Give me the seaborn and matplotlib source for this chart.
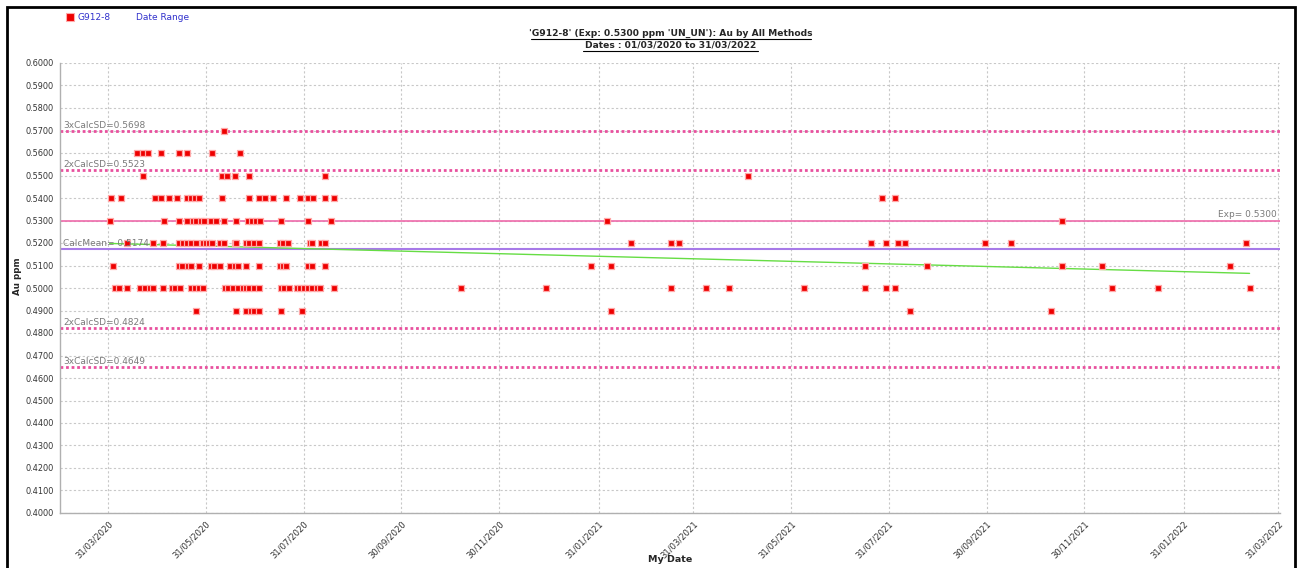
import numpy as np
import pandas as pd
import matplotlib
matplotlib.use("Agg")
import matplotlib.pyplot as plt
import matplotlib.dates as mdates
from matplotlib.patches import Rectangle
import seaborn as sns

# ---------------- data (days after 01/03/2020 for each Au level) ----------------
start_date = "2020-03-01"
end_date = "2022-03-31"
levels = [0.57, 0.56, 0.55, 0.54, 0.53, 0.52, 0.51, 0.50, 0.49]
days_057 = [102]
days_056 = [48, 52, 55, 63, 74, 79, 95, 112]
days_055 = [52, 101, 104, 109, 118, 165, 429]
days_054 = [32, 38, 59, 63, 68, 73, 79, 82, 84, 87, 101, 118, 124, 128, 133, 141,
            150, 155, 158, 165, 171, 513, 521]
days_053 = [31, 65, 74, 79, 83, 85, 88, 90, 94, 97, 102, 110, 117, 120, 122, 125,
            138, 155, 169, 341, 625]
days_052 = [42, 58, 64, 74, 77, 79, 82, 85, 89, 91, 93, 95, 100, 102, 109, 110, 116,
            118, 121, 124, 137, 139, 142, 156, 157, 163, 165, 356, 381, 386, 506, 515,
            523, 527, 577, 593, 740]
days_051 = [33, 74, 76, 80, 82, 87, 94, 96, 100, 106, 109, 111, 116, 124, 137, 139,
            141, 155, 157, 165, 331, 344, 502, 541, 625, 650, 730]
days_050 = [34, 37, 42, 50, 53, 56, 58, 64, 70, 72, 75, 82, 84, 87, 89, 103, 105, 108,
            111, 114, 116, 118, 121, 124, 138, 140, 143, 148, 150, 152, 155, 157, 160,
            162, 171, 250, 303, 381, 403, 417, 464, 502, 515, 521, 656, 685, 742]
days_049 = [85, 110, 116, 119, 121, 124, 138, 151, 344, 530, 618]
day_lists = [days_057, days_056, days_055, days_054, days_053, days_052, days_051,
             days_050, days_049]

exp_value = 0.5300
calc_mean = 0.5174
sd2_hi, sd2_lo = 0.5523, 0.4824
sd3_hi, sd3_lo = 0.5698, 0.4649
trend_days = [31, 742]
trend_vals = [0.5198, 0.5065]

tick_dates = ["2020-03-31", "2020-05-31", "2020-07-31", "2020-09-30", "2020-11-30",
              "2021-01-31", "2021-03-31", "2021-05-31", "2021-07-31", "2021-09-30",
              "2021-11-30", "2022-01-31", "2022-03-31"]
y_ticks = [0.40 + 0.01 * i for i in range(21)]

# ---------------- build table ----------------
t0 = pd.Timestamp(start_date)
rows = []
for lv, dl in zip(levels, day_lists):
    for d in dl:
        rows.append({"date": t0 + pd.Timedelta(days=d), "au": lv})
df = pd.DataFrame(rows)

sns.set_style("white")
plt.rcParams["font.family"] = ["DejaVu Sans"]

fig = plt.figure(figsize=(13.01, 5.68), dpi=100)
ax = fig.add_axes([60 / 1301, 1 - 513 / 568, 1220 / 1301, 450 / 568])

# grid
ax.set_axisbelow(True)
ax.grid(True, color="#c8c8c8", linestyle=(0, (2, 2)), linewidth=0.8)

# reference lines
pink = "#e8509e"
for v in [sd3_hi, sd3_lo, sd2_hi, sd2_lo]:
    ax.axhline(v, color=pink, linestyle=(0, (1, 1)), linewidth=2.0, zorder=2)
ax.axhline(exp_value, color="#ee6aaa", linewidth=1.2, zorder=2)
ax.axhline(calc_mean, color="#a77ae8", linewidth=1.5, zorder=2)

# trend line
tdates = [t0 + pd.Timedelta(days=d) for d in trend_days]
sns.lineplot(x=tdates, y=trend_vals, ax=ax, color="#66dd44", linewidth=1.0, zorder=3)

# data points
sns.scatterplot(data=df, x="date", y="au", ax=ax, marker="s", s=15,
                color="#ee0000", edgecolor="#ffa8a8", linewidth=0.9, zorder=4,
                legend=False)

# labels on lines
lab_kw = dict(fontsize=6.5, color="#7a7a7a", zorder=5)
xl = t0 + pd.Timedelta(days=2)
ax.text(xl, sd3_hi + 0.0004, f"3xCalcSD={sd3_hi:.4f}", va="bottom", **lab_kw)
ax.text(xl, sd2_hi + 0.0004, f"2xCalcSD={sd2_hi:.4f}", va="bottom", **lab_kw)
ax.text(xl, sd2_lo + 0.0004, f"2xCalcSD={sd2_lo:.4f}", va="bottom", **lab_kw)
ax.text(xl, sd3_lo + 0.0004, f"3xCalcSD={sd3_lo:.4f}", va="bottom", **lab_kw)
ax.text(xl, calc_mean + 0.0004, f"CalcMean= {calc_mean:.4f}", va="bottom", **lab_kw)
ax.text(pd.Timestamp(end_date) - pd.Timedelta(days=1), exp_value + 0.0005,
        f"Exp= {exp_value:.4f}", ha="right", va="bottom", **lab_kw)

# axes
ax.set_xlim(t0, pd.Timestamp(end_date) + pd.Timedelta(days=1))
ax.set_ylim(0.40, 0.60)
ax.set_yticks(y_ticks)
ax.set_yticklabels([f"{v:.4f}" for v in y_ticks], fontsize=5.9, color="#333333")
ax.set_xticks([pd.Timestamp(d) for d in tick_dates])
ax.set_xticklabels([pd.Timestamp(d).strftime("%d/%m/%Y") for d in tick_dates],
                   rotation=45, ha="right", rotation_mode="anchor", fontsize=6.1,
                   color="#333333")
ax.tick_params(axis="both", length=3, width=0.6, color="#888888", pad=1.5)
for s in ["top", "right"]:
    ax.spines[s].set_visible(False)
for s in ["left", "bottom"]:
    ax.spines[s].set_color("#b0b0b0")
    ax.spines[s].set_linewidth(1.0)
ax.set_xlabel("My Date", fontsize=6.8, fontweight="bold")
ax.set_ylabel("Au ppm", fontsize=6.3, fontweight="bold")
ax.xaxis.set_label_coords(0.5, (513 - 555) / 450)
ax.yaxis.set_label_coords((17 - 60) / 1220, (513 - 276) / 450)
ax.yaxis.label.set_va("center")

# title
fig.text(671 / 1301, 1 - 33 / 568, "'G912-8' (Exp: 0.5300 ppm 'UN_UN'): Au by All Methods",
         ha="center", va="center", fontsize=6.6, fontweight="bold")
fig.text(671 / 1301, 1 - 45 / 568, "Dates : 01/03/2020 to 31/03/2022",
         ha="center", va="center", fontsize=6.6, fontweight="bold")
# underlines
fig.add_artist(plt.Line2D([531 / 1301, 811 / 1301], [1 - 39 / 568] * 2, color="black", lw=0.8))
fig.add_artist(plt.Line2D([583 / 1301, 758 / 1301], [1 - 51 / 568] * 2, color="black", lw=0.8))

# legend
fig.add_artist(Rectangle((66 / 1301, 1 - 21 / 568), 8 / 1301, 8 / 568,
                         facecolor="#ee0000", edgecolor="#ffaaaa", lw=0.8))
fig.text(78 / 1301, 1 - 17 / 568, "G912-8", ha="left", va="center", fontsize=6.5,
         color="#3030cc")
fig.text(136 / 1301, 1 - 17 / 568, "Date Range", ha="left", va="center", fontsize=6.5,
         color="#3030cc")

# outer frame
fig.add_artist(Rectangle((7 / 1301, -0.05), 1288 / 1301, 1.05 - 7 / 568,
                         facecolor="none", edgecolor="black", lw=2.0))

fig.savefig("out.png", dpi=100)
